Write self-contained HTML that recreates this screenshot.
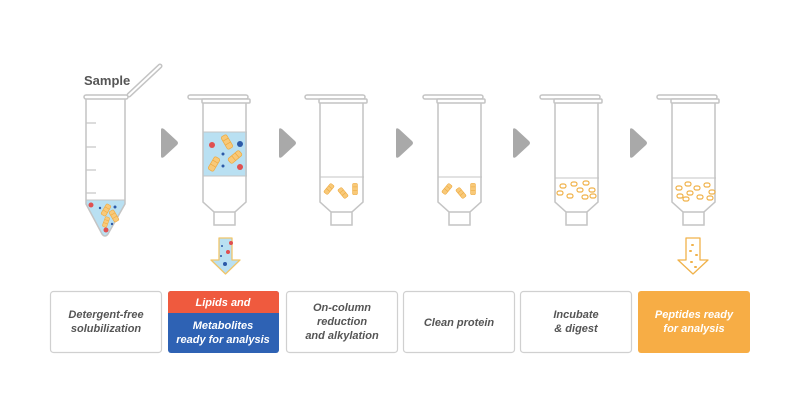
<!DOCTYPE html>
<html><head><meta charset="utf-8"><style>
html,body{margin:0;padding:0;background:#fff;width:800px;height:418px;overflow:hidden}
svg{display:block}
text{font-family:"Liberation Sans",sans-serif;font-weight:bold;font-style:italic}
</style></head><body>
<svg width="800" height="418" viewBox="0 0 800 418" xmlns="http://www.w3.org/2000/svg">
<defs>
<g id="col" fill="none" stroke="#c4c4c4" stroke-width="1.5">
<rect x="-37" y="95" width="60" height="4" rx="2" fill="#fff"/>
<rect x="-23" y="99" width="48" height="4" rx="1" fill="#fff"/>
<path d="M-22 103 V202 L-11 212 V225 H10 V212 L21 202 V103"/>
<line x1="-11" y1="212" x2="10" y2="212"/>
</g>
<g id="chev"><path d="M-8 -13 Q-8 -16 -5 -14 L8 -2 Q10 0 8 2 L-5 14 Q-8 16 -8 13 Z" fill="#a9a9a9"/></g>
<g id="pep" fill="none" stroke="#f0b24a" stroke-width="1.2"><rect x="-3" y="-2" width="6" height="4" rx="2"/></g>
<g id="chain" fill="#f8c979" stroke="#eeaa40" stroke-width="0.8"><rect x="-3.5" y="-8" width="7" height="16" rx="2"/><line x1="-3.5" y1="-3" x2="3.5" y2="-3"/><line x1="-3.5" y1="2" x2="3.5" y2="2"/></g>
</defs>

<!-- Sample tube -->
<text x="84" y="85" style="font-style:normal" font-size="13" fill="#555">Sample</text>
<line x1="129" y1="95" x2="160" y2="66" stroke="#c4c4c4" stroke-width="5" stroke-linecap="round"/>
<line x1="129" y1="95" x2="160" y2="66" stroke="#fff" stroke-width="2" stroke-linecap="round"/>
<rect x="84" y="95" width="44" height="4" rx="2" fill="#fff" stroke="#c4c4c4" stroke-width="1.5"/>
<path d="M86 200 H125 V204 L108 234 Q105 238 102 234 L86 204 Z" fill="#b9e0f2"/>
<path d="M86 99 V204 L102 234 Q105 238 108 234 L125 204 V99" fill="none" stroke="#c4c4c4" stroke-width="1.5"/>
<g stroke="#c4c4c4" stroke-width="1.2"><line x1="86" y1="123" x2="96" y2="123"/><line x1="86" y1="147" x2="96" y2="147"/><line x1="86" y1="170" x2="96" y2="170"/><line x1="86" y1="193" x2="96" y2="193"/></g>
<line x1="86" y1="200" x2="125" y2="200" stroke="#c4c4c4" stroke-width="1"/>
<g transform="translate(106,210) rotate(30) scale(0.75)"><use href="#chain"/></g>
<g transform="translate(114,216) rotate(-30) scale(0.75)"><use href="#chain"/></g>
<g transform="translate(106,222) rotate(20) scale(0.65)"><use href="#chain"/></g>
<circle cx="91" cy="205" r="2.5" fill="#e05050"/><circle cx="106" cy="230" r="2.5" fill="#e05050"/>
<circle cx="115" cy="207" r="1.5" fill="#2c5aa8"/><circle cx="100" cy="208" r="1.2" fill="#2c5aa8"/><circle cx="112" cy="224" r="1.2" fill="#2c5aa8"/>

<!-- columns -->
<rect x="203" y="132" width="44" height="44" fill="#b9e0f2"/>
<use href="#col" x="225"/>
<line x1="203" y1="132" x2="247" y2="132" stroke="#c4c4c4"/><line x1="203" y1="176" x2="247" y2="176" stroke="#c4c4c4"/>
<circle cx="212" cy="145" r="3" fill="#e05050"/><circle cx="240" cy="167" r="3" fill="#e05050"/><circle cx="240" cy="144" r="3" fill="#2c5aa8"/>
<circle cx="223" cy="154" r="1.5" fill="#2c5aa8"/><circle cx="223" cy="166" r="1.5" fill="#2c5aa8"/>
<g transform="translate(227,142) rotate(-30) scale(0.9)"><use href="#chain"/></g>
<g transform="translate(235,157) rotate(50) scale(0.9)"><use href="#chain"/></g>
<g transform="translate(214,164) rotate(30) scale(0.9)"><use href="#chain"/></g>

<use href="#col" x="342"/><line x1="320" y1="177" x2="364" y2="177" stroke="#c4c4c4"/>
<g transform="translate(329,189) rotate(40) scale(0.7)"><use href="#chain"/></g>
<g transform="translate(343,193) rotate(-40) scale(0.7)"><use href="#chain"/></g>
<g transform="translate(355,189) scale(0.7)"><use href="#chain"/></g>
<use href="#col" x="460"/><line x1="438" y1="177" x2="482" y2="177" stroke="#c4c4c4"/>
<g transform="translate(447,189) rotate(40) scale(0.7)"><use href="#chain"/></g>
<g transform="translate(461,193) rotate(-40) scale(0.7)"><use href="#chain"/></g>
<g transform="translate(473,189) scale(0.7)"><use href="#chain"/></g>
<use href="#col" x="577"/><line x1="555" y1="178" x2="599" y2="178" stroke="#c4c4c4"/>
<g><use href="#pep" x="563" y="186"/><use href="#pep" x="574" y="184"/><use href="#pep" x="586" y="183"/><use href="#pep" x="592" y="190"/><use href="#pep" x="560" y="193"/><use href="#pep" x="570" y="196"/><use href="#pep" x="580" y="190"/><use href="#pep" x="585" y="197"/><use href="#pep" x="593" y="196"/></g>
<use href="#col" x="694"/><line x1="672" y1="178" x2="716" y2="178" stroke="#c4c4c4"/>
<g><use href="#pep" x="679" y="188"/><use href="#pep" x="688" y="184"/><use href="#pep" x="697" y="188"/><use href="#pep" x="707" y="185"/><use href="#pep" x="712" y="192"/><use href="#pep" x="680" y="196"/><use href="#pep" x="690" y="193"/><use href="#pep" x="700" y="197"/><use href="#pep" x="710" y="198"/><use href="#pep" x="686" y="199"/></g>

<!-- chevrons -->
<use href="#chev" x="169" y="143"/><use href="#chev" x="287" y="143"/><use href="#chev" x="404" y="143"/><use href="#chev" x="521" y="143"/><use href="#chev" x="638" y="143"/>

<!-- down arrows -->
<path d="M219 238 H232 V260 H240 L225.5 274 L211 260 H219 Z" fill="#b9e0f2" stroke="#f0c56a" stroke-width="1.3" stroke-linejoin="round"/>
<circle cx="231" cy="243" r="2" fill="#e05050"/><circle cx="228" cy="252" r="2" fill="#e05050"/><circle cx="222" cy="246" r="1" fill="#2c5aa8"/><circle cx="225" cy="264" r="2" fill="#2c5aa8"/><circle cx="221" cy="256" r="1" fill="#2c5aa8"/>
<path d="M686 238 H700 V260 H708 L693 274 L678 260 H686 Z" fill="#fff" stroke="#f0b24a" stroke-width="1.3" stroke-linejoin="round"/>
<g fill="#f0b24a"><rect x="691" y="244" width="3" height="2" rx="1"/><rect x="689" y="250" width="3" height="2" rx="1"/><rect x="695" y="254" width="3" height="2" rx="1"/><rect x="690" y="261" width="3" height="2" rx="1"/><rect x="694" y="266" width="3" height="2" rx="1"/></g>

<!-- boxes -->
<g stroke="#d0d0d0" stroke-width="1.2" fill="#fff">
<rect x="50.5" y="291.5" width="111" height="61" rx="3"/>
<rect x="286.5" y="291.5" width="111" height="61" rx="3"/>
<rect x="403.5" y="291.5" width="111" height="61" rx="3"/>
<rect x="520.5" y="291.5" width="111" height="61" rx="3"/>
</g>
<rect x="168" y="291" width="111" height="62" rx="3" fill="#2e62b4"/>
<path d="M168 313 V294 Q168 291 171 291 H276 Q279 291 279 294 V313 Z" fill="#ef5a3e"/>
<rect x="638" y="291" width="112" height="62" rx="3" fill="#f7ad45"/>
<g font-size="11" text-anchor="middle" fill="#555">
<text x="106" y="318">Detergent-free</text><text x="106" y="332">solubilization</text>
<text x="342" y="311">On-column</text><text x="342" y="325">reduction</text><text x="342" y="339">and alkylation</text>
<text x="459" y="326">Clean protein</text>
<text x="576" y="318">Incubate</text><text x="576" y="332">&amp; digest</text>
</g>
<g font-size="11" text-anchor="middle" fill="#fff">
<text x="223" y="306">Lipids and</text>
<text x="223" y="329">Metabolites</text><text x="223" y="343">ready for analysis</text>
<text x="694" y="318">Peptides ready</text><text x="694" y="332">for analysis</text>
</g>
</svg>
</body></html>
